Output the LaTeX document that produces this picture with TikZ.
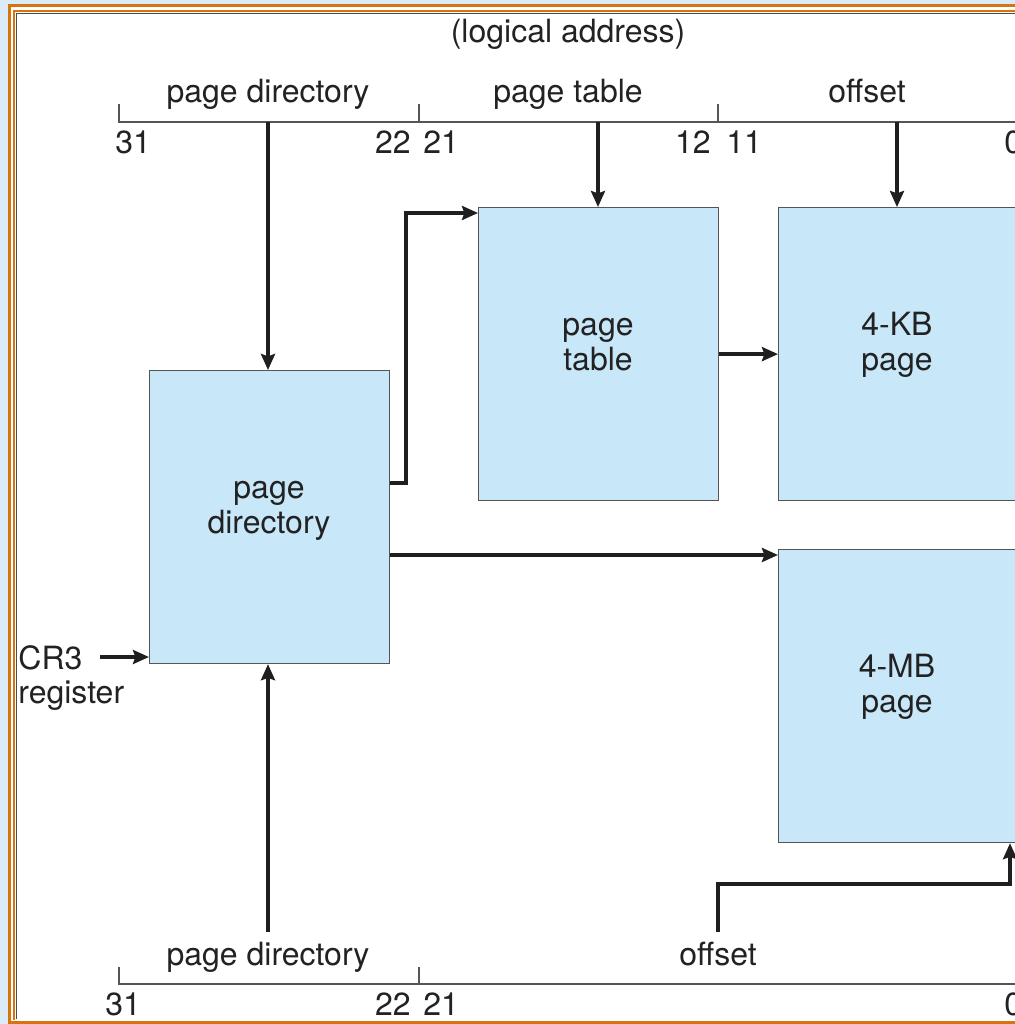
\documentclass[tikz,border=0pt]{standalone}
\usepackage{fontspec}
\setmainfont{TeX Gyre Heros}
\usetikzlibrary{arrows.meta}
\definecolor{bgblue}{HTML}{DCEBF8}
\definecolor{boxblue}{HTML}{C8E8F9}
\definecolor{frameor}{HTML}{D9730D}
\definecolor{txt}{HTML}{222222}
\definecolor{lingray}{HTML}{555555}
\tikzset{
  lbl/.style={font=\fontsize{16}{17.5}\selectfont, text=txt, inner sep=0pt},
  box/.style={draw=lingray, line width=0.6pt, fill=boxblue, inner sep=0pt,
              minimum width=120pt, minimum height=146.5pt, anchor=north west},
  hline/.style={draw=lingray, line width=0.7pt},
  arr/.style={draw=black!88, line width=1.7pt,
              -{Stealth[length=8pt,width=7pt,inset=1.2pt]}},
}
\begin{document}
\begin{tikzpicture}[x=0.5pt,y=-0.5pt]
\useasboundingbox (0,0) rectangle (1015,1024);
\clip (0,0) rectangle (1015,1024);
% background and frame
\fill[bgblue] (0,0) rectangle (1015,1024);
\fill[white] (9.5,5.5) rectangle (1040,1022);
\draw[frameor, line width=1.5pt] (9.5,5.5) rectangle (1040,1022);
\draw[frameor, line width=0.8pt] (1040,11) -- (13.8,11) -- (13.8,1020);
\draw[black!70, line width=0.5pt] (1040,13) -- (16,13) -- (16,1019);

% header lines
\draw[hline] (119,104) -- (119,122) -- (1030,122);
\draw[hline] (419,104) -- (419,122);
\draw[hline] (718,104) -- (718,122);
\draw[hline] (119,967) -- (119,984) -- (1030,984);
\draw[hline] (419,967) -- (419,984);

% top labels
\node[lbl, anchor=base] (la) at (568,42) {(logical address)};
\node[lbl, anchor=base] (tpd) at (268,102) {page directory};
\node[lbl, anchor=base] (tpt) at (568,102) {page table};
\node[lbl, anchor=base] (tof) at (867,102) {offset};
\node[lbl, anchor=base west] (n31) at (115,153) {31};
\node[lbl, anchor=base east] (n22) at (411,153) {22};
\node[lbl, anchor=base west] (n21) at (423,153) {21};
\node[lbl, anchor=base east] (n12) at (711,153) {12};
\node[lbl, anchor=base west] (n11) at (726,153) {11};
\node[lbl, anchor=base west] (n0) at (1004,153) {0};

% bottom labels
\node[lbl, anchor=base] (bpd) at (268,965) {page directory};
\node[lbl, anchor=base] (bof) at (718,965) {offset};
\node[lbl, anchor=base west] (m31) at (105,1015) {31};
\node[lbl, anchor=base east] (m22) at (411,1015) {22};
\node[lbl, anchor=base west] (m21) at (423,1015) {21};
\node[lbl, anchor=base west] (m0) at (1004,1015) {0};

% boxes
\node[box] (ptab) at (478,207) {};
\node[box] (kb) at (778,207) {};
\node[box] (pdir) at (149,370) {};
\node[box] (mb) at (778,549) {};

\node[lbl, anchor=base] (pta) at (598,335) {page};
\node[lbl, anchor=base] (ptb) at (598,370) {table};
\node[lbl, anchor=base] (kba) at (897,335) {4-KB};
\node[lbl, anchor=base] (kbb) at (897,370) {page};
\node[lbl, anchor=base] (pda) at (269,498) {page};
\node[lbl, anchor=base] (pdb) at (269,533) {directory};
\node[lbl, anchor=base] (mba) at (897,677) {4-MB};
\node[lbl, anchor=base] (mbb) at (897,712) {page};

\node[lbl, anchor=base west] (cra) at (18,669) {CR3};
\node[lbl, anchor=base west] (crb) at (18,703) {register};

% connector points
\coordinate (hpd) at (268,122);
\coordinate (hpt) at (598,122);
\coordinate (hof) at (897,122);
\coordinate (k1) at (406,483);
\coordinate (k2) at (406,213);
\coordinate (k3) at (0,555);
\coordinate (k4) at (100,657);
\coordinate (bpdp) at (268,932);
\coordinate (bofp) at (718,932);
\coordinate (c1) at (1010,884);

% connectors
\draw[arr] (hpd) -- (hpd |- pdir.north);
\draw[arr] (hpt) -- (hpt |- ptab.north);
\draw[arr] (hof) -- (hof |- kb.north);
\draw[arr] (pdir.east |- k1) -- (k1) -- (k2) -- (ptab.west |- k2);
\draw[arr] (ptab.east) -- (kb.west);
\draw[arr] (pdir.east |- k3) -- (mb.west |- k3);
\draw[arr] (k4) -- (pdir.west |- k4);
\draw[arr] (bpdp) -- (bpdp |- pdir.south);
\draw[arr] (bofp) |- (c1) -- (c1 |- mb.south);
\end{tikzpicture}
\end{document}
